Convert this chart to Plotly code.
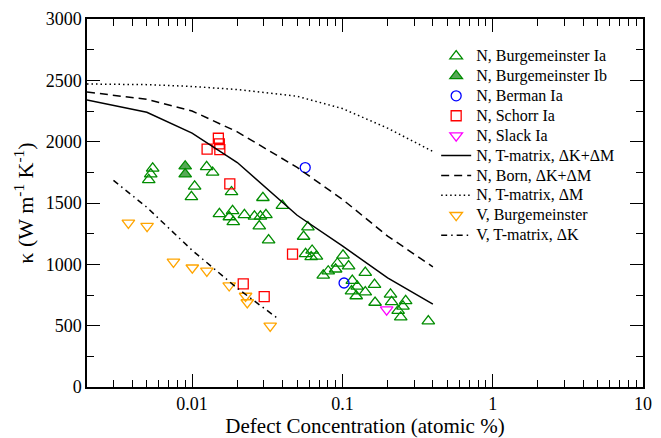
import plotly.graph_objects as go

# ---- data ----
burg_ia_x = [0.00547, 0.00531, 0.00515, 0.0125, 0.0137, 0.0104, 0.0099, 0.0183, 0.0296, 0.0399,
             0.0152, 0.0186, 0.0177, 0.0188, 0.0223, 0.026, 0.0285, 0.031, 0.028, 0.0323,
             0.059, 0.0552, 0.0569, 0.0629, 0.0672, 0.0620, 0.101, 0.0927, 0.110, 0.0746,
             0.0805, 0.0902, 0.142, 0.1164, 0.1255, 0.115, 0.1236, 0.142, 0.1636, 0.165,
             0.209, 0.2125, 0.2636, 0.253, 0.235, 0.2445, 0.373]
burg_ia_y = [1783, 1736, 1688, 1794, 1749, 1635, 1550, 1590, 1543, 1479,
             1412, 1436, 1386, 1346, 1404, 1391, 1391, 1404, 1312, 1198,
             1304, 1227, 1086, 1113, 1065, 1060, 1073, 1007, 986, 910,
             944, 960, 933, 867, 821, 782, 742, 774, 835, 689,
             755, 694, 702, 657, 622, 569, 537]

burg_ib_x = [0.009, 0.009]
burg_ib_y = [1800, 1735]

berman_x = [0.0566, 0.1026]
berman_y = [1789, 848]

schorr_x = [0.01496, 0.01518, 0.01259, 0.0153, 0.01783, 0.0466, 0.0219, 0.0302]
schorr_y = [2028, 1982, 1940, 1935, 1656, 1084, 840, 736]

slack_x = [0.197]
slack_y = [630]

v_burg_x = [0.00377, 0.00502, 0.00752, 0.01004, 0.01254, 0.01766, 0.0227, 0.0233, 0.0331]
v_burg_y = [1338, 1312, 1020, 972, 946, 827, 742, 689, 498]

calc_x = [0.002, 0.005, 0.01, 0.02, 0.05, 0.1, 0.2, 0.4]
tmat_kM_y = [2340, 2240, 2070, 1830, 1400, 1150, 890, 675]
born_kM_y = [2405, 2345, 2250, 2080, 1790, 1530, 1230, 980]
tmat_M_y = [2470, 2465, 2450, 2425, 2370, 2270, 2110, 1920]

v_calc_x = [0.003, 0.005, 0.01, 0.02, 0.0375]
v_tmat_K_y = [1685, 1465, 1115, 805, 555]

x_tick_vals = [0.01, 0.1, 1, 10]
x_tick_text = ["0.01", "0.1", "1", "10"]

FONT = "Liberation Serif"
LEG_FS = 16

fig = go.Figure()

def lab(s):
    return f'<span style="font-size:{LEG_FS}px">{s}</span>'

def marker_trace(x, y, name, symbol, color, fill=None):
    fig.add_trace(go.Scatter(
        x=x, y=y, mode="markers", name=lab(name),
        marker=dict(symbol=symbol, size=11 if "triangle" in symbol else 10,
                    color=fill if fill else "rgba(0,0,0,0)",
                    line=dict(color=color, width=1.3))))

def line_trace(x, y, name, dash):
    fig.add_trace(go.Scatter(
        x=x, y=y, mode="lines", name=lab(name),
        line=dict(color="black", width=1.5, dash=dash)))

marker_trace(burg_ia_x, burg_ia_y, "N, Burgemeinster Ia", "triangle-up", "#008c00")
marker_trace(burg_ib_x, burg_ib_y, "N, Burgemeinster Ib", "triangle-up", "#008c00", fill="rgba(30,140,30,0.75)")
marker_trace(berman_x, berman_y, "N, Berman Ia", "circle", "#0000ff")
marker_trace(schorr_x, schorr_y, "N, Schorr Ia", "square", "#ff0000")
marker_trace(slack_x, slack_y, "N, Slack Ia", "triangle-down", "#ff00ff")
line_trace(calc_x, tmat_kM_y, "N, T-matrix, ΔK+ΔM", "solid")
line_trace(calc_x, born_kM_y, "N, Born, ΔK+ΔM", "8px,5px")
line_trace(calc_x, tmat_M_y, "N, T-matrix, ΔM", "1.5px,3px")
marker_trace(v_burg_x, v_burg_y, "V, Burgemeinster", "triangle-down", "#ffa500")
line_trace(v_calc_x, v_tmat_K_y, "V, T-matrix, ΔK", "6px,4px,1.5px,4px")

minor_x = []
for dec in [0.001, 0.01, 0.1, 1]:
    for k in range(2, 10):
        minor_x.append(k * dec)

fig.update_xaxes(
    type="log", range=[-2.69897, 1],
    tickmode="array", tickvals=x_tick_vals, ticktext=x_tick_text,
    ticks="inside", ticklen=13, tickwidth=1.3, tickcolor="black",
    minor=dict(tickmode="array", tickvals=minor_x, ticks="inside", ticklen=7,
               tickwidth=1.3, tickcolor="black", showgrid=False),
    showline=True, linecolor="black", linewidth=1.5, mirror="ticks",
    showgrid=False, zeroline=False,
    tickfont=dict(family=FONT, size=18, color="black"),
    title=dict(text="Defect Concentration (atomic %)",
               font=dict(family=FONT, size=21, color="black"), standoff=0),
)
fig.update_yaxes(
    range=[0, 3000], dtick=500, tick0=0,
    ticks="inside", ticklen=13, tickwidth=1.3, tickcolor="black",
    minor=dict(dtick=250, ticks="inside", ticklen=7, tickwidth=1.3,
               tickcolor="black", showgrid=False),
    showline=True, linecolor="black", linewidth=1.5, mirror="ticks",
    showgrid=False, zeroline=False,
    tickfont=dict(family=FONT, size=18, color="black"),
    title=dict(text="κ (W m<sup>-1</sup> K<sup>-1</sup>)",
               font=dict(family=FONT, size=22, color="black"), standoff=6),
)

fig.update_layout(
    width=661, height=438,
    margin=dict(l=87, r=9, t=16, b=45),
    paper_bgcolor="white", plot_bgcolor="white",
    font=dict(family=FONT, color="black"),
    legend=dict(x=0.628, y=0.94, xanchor="left", yanchor="top",
                bgcolor="rgba(0,0,0,0)", borderwidth=0,
                font=dict(family=FONT, size=13, color="black")),
    showlegend=True,
)

fig.write_html("out.html")
